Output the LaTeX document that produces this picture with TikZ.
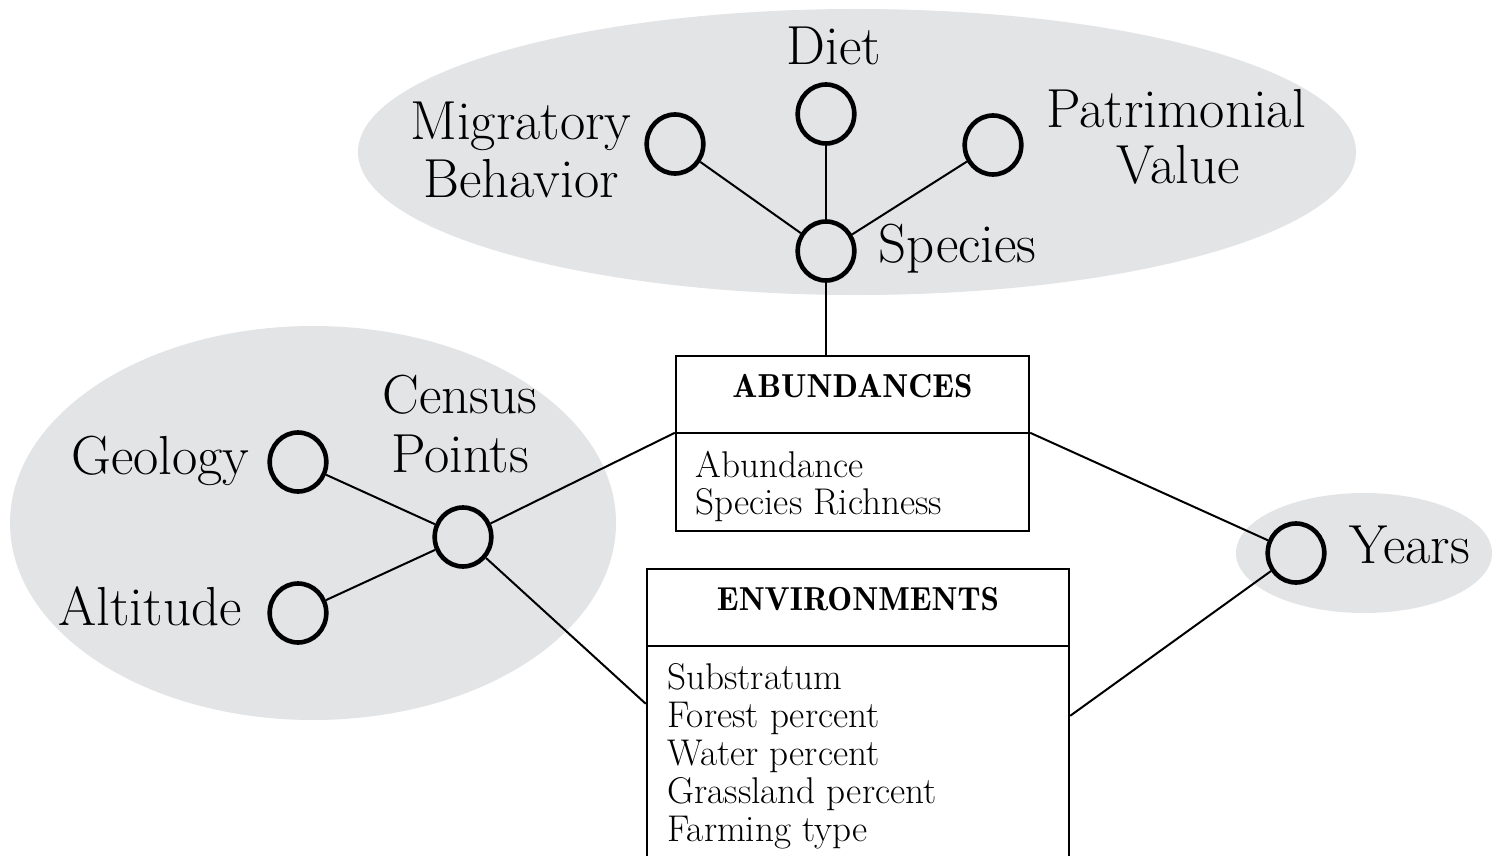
\documentclass[tikz,border=0pt]{standalone}
\usetikzlibrary{shapes.geometric}
\definecolor{zonegrey}{RGB}{227,228,230}
\tikzset{
  zone/.style={fill=zonegrey, draw=none},
  attr/.style={ellipse, draw, line width=2.3pt, inner sep=0pt,
               minimum width=28.3pt, minimum height=29.5pt},
  link/.style={line width=1pt},
  lbl/.style={inner sep=0pt, font=\fontsize{27.5}{29}\selectfont},
  tbl/.style={draw, line width=1.2pt, inner sep=0pt},
  ttl/.style={inner sep=0pt, anchor=base, font=\fontseries{b}\fontsize{16.6}{19}\selectfont},
  fld/.style={inner sep=0pt, anchor=base west, font=\fontsize{18.6}{19}\selectfont}
}
\begin{document}
\begin{tikzpicture}[x=0.5pt, y=-0.5pt]
\useasboundingbox (0,0) rectangle (1494,856);

% grey zones
\fill[zone] (857,152) ellipse [x radius=499, y radius=143];
\fill[zone] (313,523) ellipse [x radius=303, y radius=197];
\fill[zone] (1364,553) ellipse [x radius=128, y radius=60];

% attribute circles
\node[attr] (mig) at (675,144) {};
\node[attr] (diet) at (826,114) {};
\node[attr] (pat) at (993,145) {};
\node[attr] (sp) at (826,251) {};
\node[attr] (geo) at (298,462) {};
\node[attr] (alt) at (298,613) {};
\node[attr] (cen) at (463,537) {};
\node[attr] (yrs) at (1296,553) {};

% labels
\node[lbl, anchor=base] (lmig1) at (521,140) {Migratory};
\node[lbl, anchor=base] (lmig2) at (521,198) {Behavior};
\node[lbl, anchor=base] (ldiet) at (834,65) {Diet};
\node[lbl, anchor=base] (lpat1) at (1176,127) {Patrimonial};
\node[lbl, anchor=base] (lpat2) at (1178,184) {Value};
\node[lbl, anchor=base west] (lsp) at (878,262) {Species};
\node[lbl, anchor=base] (lcen1) at (460,413) {Census};
\node[lbl, anchor=base] (lcen2) at (460,472) {Points};
\node[lbl, anchor=base east] (lgeo) at (250,474) {Geology};
\node[lbl, anchor=base east] (lalt) at (242,625) {Altitude};
\node[lbl, anchor=base west] (lyrs) at (1349,563) {Years};

% tables
\node[tbl, minimum width=176.5pt, minimum height=87.5pt] (ab) at (852.5,443.5) {};
\path (ab.north west) ++(0,78) coordinate (abL);
\path (ab.north east) ++(0,78) coordinate (abR);
\draw[line width=1.2pt] (abL) -- (abR);
\node[ttl] (abt) at (852.5,397) {ABUNDANCES};
\node[fld] (ab1) at (695,477) {Abundance};
\node[fld] (ab2) at (695,514) {Species Richness};

\node[tbl, minimum width=211pt, minimum height=152pt] (env) at (858,721) {};
\path (env.north west) ++(0,78) coordinate (envL);
\path (env.north east) ++(0,78) coordinate (envR);
\path (env.north west) ++(0,136) coordinate (envW);
\path (env.north east) ++(0,148) coordinate (envE);
\draw[line width=1.2pt] (envL) -- (envR);
\node[ttl] (envt) at (858,610) {ENVIRONMENTS};
\node[fld] (env1) at (667,689) {Substratum};
\node[fld] (env2) at (667,727) {Forest percent};
\node[fld] (env3) at (667,765) {Water percent};
\node[fld] (env4) at (667,803) {Grassland percent};
\node[fld] (env5) at (667,841) {Farming type};

% connectors
\draw[link] (sp) -- (mig);
\draw[link] (sp) -- (diet);
\draw[link] (sp) -- (pat);
\draw[link] (sp) -- (sp |- ab.north);
\draw[link] (cen) -- (geo);
\draw[link] (cen) -- (alt);
\draw[link] (cen) -- (abL);
\draw[link] (cen) -- (envW);
\draw[link] (abR) -- (yrs);
\draw[link] (envE) -- (yrs);
\end{tikzpicture}
\end{document}
